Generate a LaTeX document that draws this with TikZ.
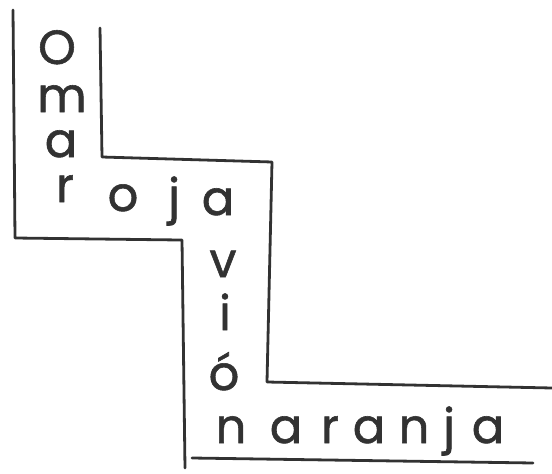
\documentclass[tikz,border=0pt]{standalone}
\usepackage{fontspec}
\newfontfamily\handfont{Poppins}[FakeBold=1.2]
\usetikzlibrary{positioning}
\definecolor{pencil}{RGB}{50,50,50}
\tikzset{
  letter/.style={anchor=base, inner sep=0pt, text=pencil,
    font=\handfont\fontsize{48}{48}\selectfont},
  stair/.style={draw=pencil, line width=2.8pt, line join=round, line cap=round},
}

\begin{document}
\begin{tikzpicture}[x=1pt, y=-1pt]
  \useasboundingbox (0,0) rectangle (552,474);

  % Omar, downwards
  \node[letter] (O1) at (57,64) {O};
  \node[letter] (m1) at (62,112) {m};
  \node[letter] (a1) at (61,157) {a};
  \node[letter] (r1) at (65,202) {r};

  % roja, across
  \node[letter] (o2) at (123,211) {o};
  \node[letter] (j2) at (174,213) {j};
  \node[letter] (a2) at (218,215) {a};

  % avion, downwards
  \node[letter] (v3) at (223,277) {v};
  \node[letter] (i3) at (225,330) {i};
  \node[letter] (o3) at (224,390) {ó};
  \node[letter] (n3) at (231,443) {n};

  % naranja, across
  \node[letter] (a4) at (286,443) {a};
  \node[letter] (r4) at (330,443) {r};
  \node[letter] (a5) at (369,443) {a};
  \node[letter] (n4) at (414,443) {n};
  \node[letter] (j4) at (449,443) {j};
  \node[letter] (a6) at (488,443) {a};

  % outer edge of the stair
  \draw[stair] (13,10) -- (15,238) -- (180,240) -- (182,240) -- (185,468);
  \draw[stair] (192,458) -- (533,463);
  % inner edge of the stair
  \draw[stair] (100,28) -- (102,157) -- (272,162) -- (267,382) -- (552,388);
\end{tikzpicture}
\end{document}
